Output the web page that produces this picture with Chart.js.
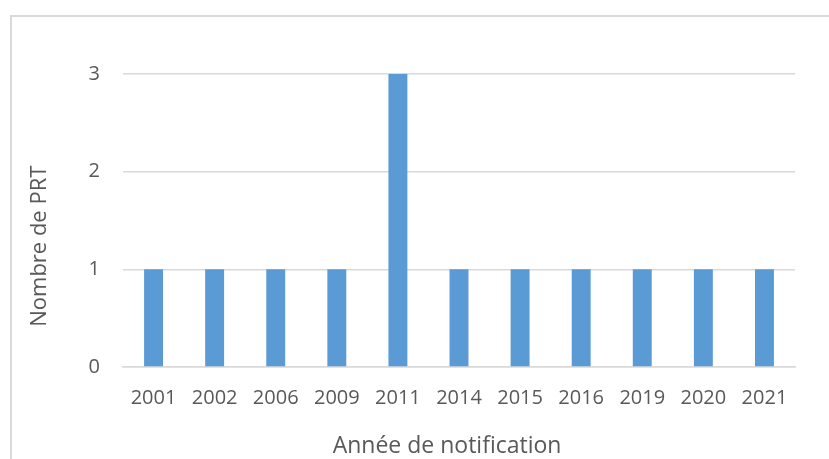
<!DOCTYPE html>
<html>
<head>
<meta charset="utf-8">
<script src="https://cdn.jsdelivr.net/npm/chart.js@4"></script>
<style>
  html, body { margin: 0; padding: 0; background: #fff; overflow: hidden; }
  #wrap { position: relative; width: 829px; height: 459px; }
  #frame { position: absolute; left: 10px; top: 15px; width: 900px; height: 600px;
           border: 2px solid #d9d9d9; box-sizing: border-box; }
  canvas { position: absolute; left: 0; top: 0; }
</style>
</head>
<body>
<div id="wrap">
  <div id="frame"></div>
  <canvas id="canvas" width="829" height="459"></canvas>
</div>
<script>
var years = ['2001', '2002', '2006', '2009', '2011', '2014', '2015', '2016', '2019', '2020', '2021'];
var prtCounts = [1, 1, 1, 1, 3, 1, 1, 1, 1, 1, 1];
var yTicks = [0, 1, 2, 3];

var textColor = '#595959';
var gridColor = '#d9d9d9';
var fontFamily = '"Open Sans", sans-serif';

window.onload = function() {
  var ctx = document.getElementById('canvas').getContext('2d');
  window.myBar = new Chart(ctx, {
    type: 'bar',
    data: {
      labels: years,
      datasets: [{
        label: 'Nombre de PRT',
        backgroundColor: '#5b9bd5',
        borderWidth: 0,
        barPercentage: 0.31,
        categoryPercentage: 1,
        data: prtCounts
      }]
    },
    options: {
      responsive: false,
      animation: false,
      layout: { padding: { left: 0, right: 34, top: 74, bottom: 0 } },
      plugins: {
        legend: { display: false },
        tooltip: { enabled: false }
      },
      scales: {
        x: {
          grid: { display: false },
          border: { color: gridColor, width: 1.5 },
          ticks: { color: textColor, font: { family: fontFamily, size: 20 }, padding: 11, maxRotation: 0 },
          title: {
            // trailing spaces nudge the centred title left like the original
            display: true, text: 'Année de notification    ', color: textColor,
            font: { family: fontFamily, size: 23 }, padding: { top: 0, bottom: -1 }
          },
          afterFit: function(scale) { scale.height = 92; }
        },
        y: {
          min: 0, max: 3,
          afterBuildTicks: function(scale) { scale.ticks = yTicks.map(function(v) { return { value: v }; }); },
          grid: { color: gridColor, lineWidth: 1.5, drawTicks: false },
          border: { display: false },
          ticks: { color: textColor, font: { family: fontFamily, size: 20 }, padding: 23 },
          title: {
            display: true, text: 'Nombre de PRT         ', color: textColor,
            font: { family: fontFamily, size: 22 }, padding: { top: 27, bottom: 0 }
          },
          afterFit: function(scale) { scale.width = 123; }
        }
      }
    }
  });
};
</script>
</body>
</html>
